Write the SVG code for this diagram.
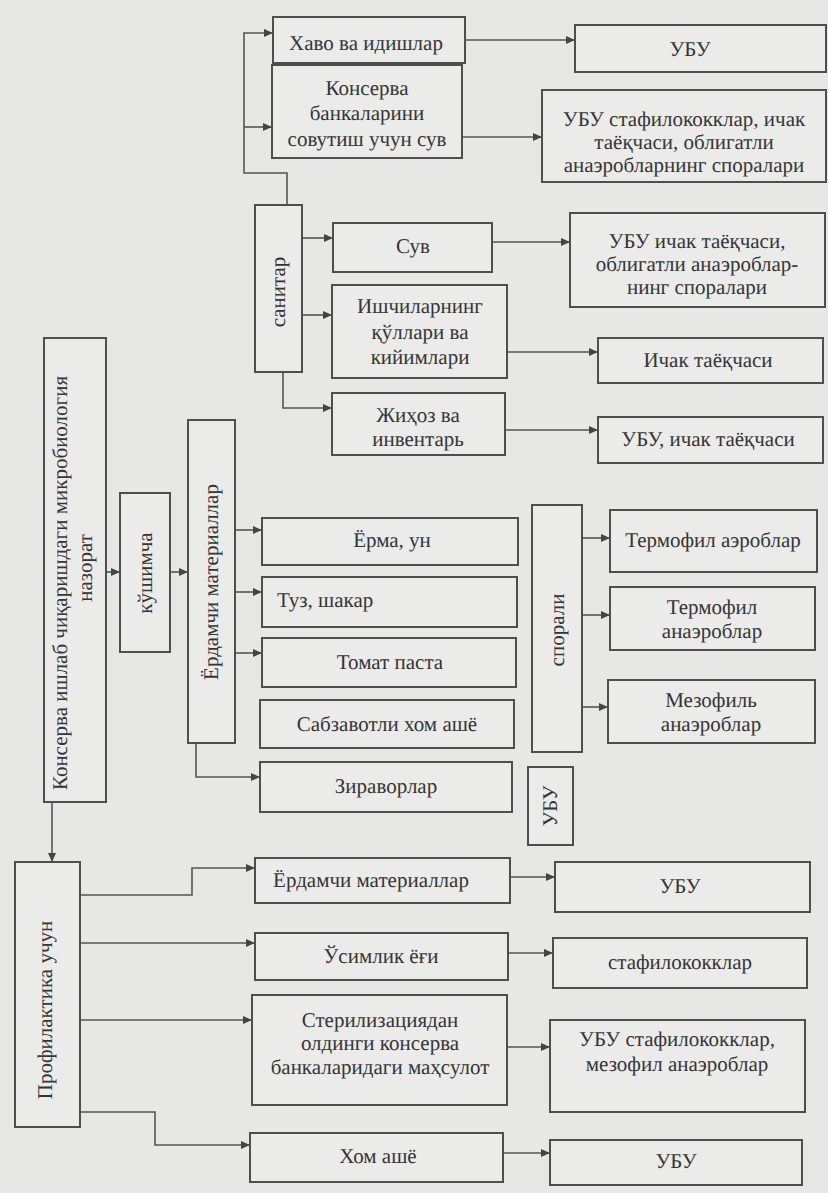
<svg xmlns="http://www.w3.org/2000/svg" width="828" height="1193" viewBox="0 0 828 1193">
<style>
.bg{fill:#e7e7e5}
.box{fill:#ebebea;stroke:#4e4e4e;stroke-width:2}
.t{font-family:"Liberation Serif","Times New Roman","DejaVu Serif",serif;font-size:21px;fill:#353535;text-anchor:middle;dominant-baseline:central;text-rendering:geometricPrecision}
.c{fill:none;stroke:#555;stroke-width:1.6}
</style>
<defs>
<marker id="ah" markerWidth="9" markerHeight="8" refX="9" refY="4" orient="auto" markerUnits="userSpaceOnUse">
<path d="M0,0 L9,4 L0,8 z" fill="#444"/>
</marker>
</defs>
<rect class="bg" x="0" y="0" width="828" height="1193"/>

<g id="connectors">
<path class="c" d="M287,205 V173 H244 V33 H273" marker-end="url(#ah)"/>
<path class="c" d="M244,127 H272" marker-end="url(#ah)"/>
<path class="c" d="M465,40 H575" marker-end="url(#ah)"/>
<path class="c" d="M462,137 H542" marker-end="url(#ah)"/>
<path class="c" d="M302,238 H333" marker-end="url(#ah)"/>
<path class="c" d="M302,315 H332" marker-end="url(#ah)"/>
<path class="c" d="M283,372 V408 H332" marker-end="url(#ah)"/>
<path class="c" d="M492,242 H570" marker-end="url(#ah)"/>
<path class="c" d="M507,352 H598" marker-end="url(#ah)"/>
<path class="c" d="M505,430 H598" marker-end="url(#ah)"/>
<path class="c" d="M106,572 H120" marker-end="url(#ah)"/>
<path class="c" d="M170,572 H188" marker-end="url(#ah)"/>
<path class="c" d="M235,530 H262" marker-end="url(#ah)"/>
<path class="c" d="M235,592 H262" marker-end="url(#ah)"/>
<path class="c" d="M235,653 H262" marker-end="url(#ah)"/>
<path class="c" d="M196,743 V777 H260" marker-end="url(#ah)"/>
<path class="c" d="M582,538 H610" marker-end="url(#ah)"/>
<path class="c" d="M582,615 H610" marker-end="url(#ah)"/>
<path class="c" d="M582,707 H608" marker-end="url(#ah)"/>
<path class="c" d="M52,802 V862" marker-end="url(#ah)"/>
<path class="c" d="M80,895 H192 V868 H255" marker-end="url(#ah)"/>
<path class="c" d="M80,943 H255" marker-end="url(#ah)"/>
<path class="c" d="M80,1020 H252" marker-end="url(#ah)"/>
<path class="c" d="M80,1112 H155 V1145 H250" marker-end="url(#ah)"/>
<path class="c" d="M510,877 H555" marker-end="url(#ah)"/>
<path class="c" d="M508,953 H553" marker-end="url(#ah)"/>
<path class="c" d="M507,1047 H550" marker-end="url(#ah)"/>
<path class="c" d="M503,1153 H550" marker-end="url(#ah)"/>
</g>

<g id="main">
<rect class="box" x="44" y="338" width="62" height="464"/>
<text class="t" font-family="Liberation Serif" transform="translate(60,583) rotate(-90)">Консерва ишлаб чиқаришдаги микробиология</text>
<text class="t" font-family="Liberation Serif" transform="translate(85,568) rotate(-90)">назорат</text>
</g>
<g id="kushimcha">
<rect class="box" x="120" y="493" width="50" height="159"/>
<text class="t" font-family="Liberation Serif" transform="translate(145,573) rotate(-90)">кўшимча</text>
</g>
<g id="yordamchi-mat">
<rect class="box" x="188" y="420" width="47" height="323"/>
<text class="t" font-family="Liberation Serif" transform="translate(211,582) rotate(-90)">Ёрдамчи материаллар</text>
</g>
<g id="sanitar">
<rect class="box" x="255" y="205" width="47" height="167"/>
<text class="t" font-family="Liberation Serif" transform="translate(278,292) rotate(-90)">санитар</text>
</g>
<g id="havo">
<rect class="box" x="273" y="17" width="192" height="46"/>
<text class="t" font-family="Liberation Serif" x="366" y="43">Хаво ва идишлар</text>
</g>
<g id="konserva-suv">
<rect class="box" x="272" y="65" width="190" height="93"/>
<text class="t" font-family="Liberation Serif" x="367" y="88">Консерва</text>
<text class="t" font-family="Liberation Serif" x="367" y="113">банкаларини</text>
<text class="t" font-family="Liberation Serif" x="367" y="139">совутиш учун сув</text>
</g>
<g id="uby1">
<rect class="box" x="575" y="25" width="251" height="47"/>
<text class="t" font-family="Liberation Serif" x="690" y="49">УБУ</text>
</g>
<g id="uby-staf1">
<rect class="box" x="542" y="90" width="284" height="92"/>
<text class="t" font-family="Liberation Serif" x="684" y="119">УБУ стафилококклар, ичак</text>
<text class="t" font-family="Liberation Serif" x="684" y="142">таёқчаси, облигатли</text>
<text class="t" font-family="Liberation Serif" x="684" y="165">анаэробларнинг споралари</text>
</g>
<g id="suv">
<rect class="box" x="333" y="223" width="159" height="49"/>
<text class="t" font-family="Liberation Serif" x="413" y="246">Сув</text>
</g>
<g id="ishchilar">
<rect class="box" x="332" y="285" width="175" height="93"/>
<text class="t" font-family="Liberation Serif" x="420" y="306">Ишчиларнинг</text>
<text class="t" font-family="Liberation Serif" x="420" y="332">қўллари ва</text>
<text class="t" font-family="Liberation Serif" x="420" y="357">кийимлари</text>
</g>
<g id="jihoz">
<rect class="box" x="332" y="393" width="173" height="62"/>
<text class="t" font-family="Liberation Serif" x="418" y="415">Жиҳоз ва</text>
<text class="t" font-family="Liberation Serif" x="418" y="439">инвентарь</text>
</g>
<g id="uby-ichak1">
<rect class="box" x="570" y="213" width="255" height="94"/>
<text class="t" font-family="Liberation Serif" x="697" y="241">УБУ ичак таёқчаси,</text>
<text class="t" font-family="Liberation Serif" x="697" y="264">облигатли анаэроблар-</text>
<text class="t" font-family="Liberation Serif" x="697" y="287">нинг споралари</text>
</g>
<g id="ichak">
<rect class="box" x="598" y="338" width="225" height="45"/>
<text class="t" font-family="Liberation Serif" x="708" y="360">Ичак таёқчаси</text>
</g>
<g id="uby-ichak2">
<rect class="box" x="598" y="417" width="225" height="46"/>
<text class="t" font-family="Liberation Serif" x="708" y="439">УБУ, ичак таёқчаси</text>
</g>
<g id="yorma">
<rect class="box" x="262" y="518" width="256" height="47"/>
<text class="t" font-family="Liberation Serif" x="392" y="540">Ёрма, ун</text>
</g>
<g id="tuz">
<rect class="box" x="262" y="577" width="255" height="50"/>
<text class="t" font-family="Liberation Serif" x="277" y="600" style="text-anchor:start">Туз, шакар</text>
</g>
<g id="tomat">
<rect class="box" x="262" y="638" width="254" height="49"/>
<text class="t" font-family="Liberation Serif" x="390" y="662">Томат паста</text>
</g>
<g id="sabzavot">
<rect class="box" x="260" y="700" width="254" height="48"/>
<text class="t" font-family="Liberation Serif" x="387" y="724">Сабзавотли хом ашё</text>
</g>
<g id="ziravor">
<rect class="box" x="260" y="762" width="252" height="50"/>
<text class="t" font-family="Liberation Serif" x="386" y="786">Зираворлар</text>
</g>
<g id="sporali">
<rect class="box" x="532" y="505" width="50" height="247"/>
<text class="t" font-family="Liberation Serif" transform="translate(557,630) rotate(-90)">спорали</text>
</g>
<g id="uby-v">
<rect class="box" x="528" y="767" width="45" height="78"/>
<text class="t" font-family="Liberation Serif" transform="translate(550,806) rotate(-90)">УБУ</text>
</g>
<g id="termo-aero">
<rect class="box" x="610" y="510" width="207" height="62"/>
<text class="t" font-family="Liberation Serif" x="713" y="540">Термофил аэроблар</text>
</g>
<g id="termo-anaero">
<rect class="box" x="610" y="587" width="205" height="63"/>
<text class="t" font-family="Liberation Serif" x="712" y="607">Термофил</text>
<text class="t" font-family="Liberation Serif" x="712" y="631">анаэроблар</text>
</g>
<g id="mezo-anaero">
<rect class="box" x="608" y="680" width="207" height="63"/>
<text class="t" font-family="Liberation Serif" x="711" y="700">Мезофиль</text>
<text class="t" font-family="Liberation Serif" x="711" y="724">анаэроблар</text>
</g>
<g id="profilaktika">
<rect class="box" x="15" y="862" width="65" height="265"/>
<text class="t" font-family="Liberation Serif" transform="translate(45,1010) rotate(-90)">Профилактика учун</text>
</g>
<g id="yordamchi2">
<rect class="box" x="255" y="858" width="255" height="45"/>
<text class="t" font-family="Liberation Serif" x="371" y="880">Ёрдамчи материаллар</text>
</g>
<g id="osimlik">
<rect class="box" x="255" y="933" width="253" height="47"/>
<text class="t" font-family="Liberation Serif" x="381" y="956">Ўсимлик ёғи</text>
</g>
<g id="steril">
<rect class="box" x="252" y="995" width="255" height="110"/>
<text class="t" font-family="Liberation Serif" x="380" y="1020">Стерилизациядан</text>
<text class="t" font-family="Liberation Serif" x="380" y="1043">олдинги консерва</text>
<text class="t" font-family="Liberation Serif" x="380" y="1067">банкаларидаги маҳсулот</text>
</g>
<g id="hom-ashyo">
<rect class="box" x="250" y="1133" width="253" height="49"/>
<text class="t" font-family="Liberation Serif" x="378" y="1156">Хом ашё</text>
</g>
<g id="uby2">
<rect class="box" x="555" y="862" width="255" height="50"/>
<text class="t" font-family="Liberation Serif" x="680" y="886">УБУ</text>
</g>
<g id="staf">
<rect class="box" x="553" y="938" width="254" height="50"/>
<text class="t" font-family="Liberation Serif" x="680" y="962">стафилококклар</text>
</g>
<g id="uby-staf2">
<rect class="box" x="550" y="1020" width="255" height="92"/>
<text class="t" font-family="Liberation Serif" x="677" y="1039">УБУ стафилококклар,</text>
<text class="t" font-family="Liberation Serif" x="677" y="1064">мезофил анаэроблар</text>
</g>
<g id="uby3">
<rect class="box" x="550" y="1140" width="252" height="45"/>
<text class="t" font-family="Liberation Serif" x="676" y="1161">УБУ</text>
</g>
</svg>
